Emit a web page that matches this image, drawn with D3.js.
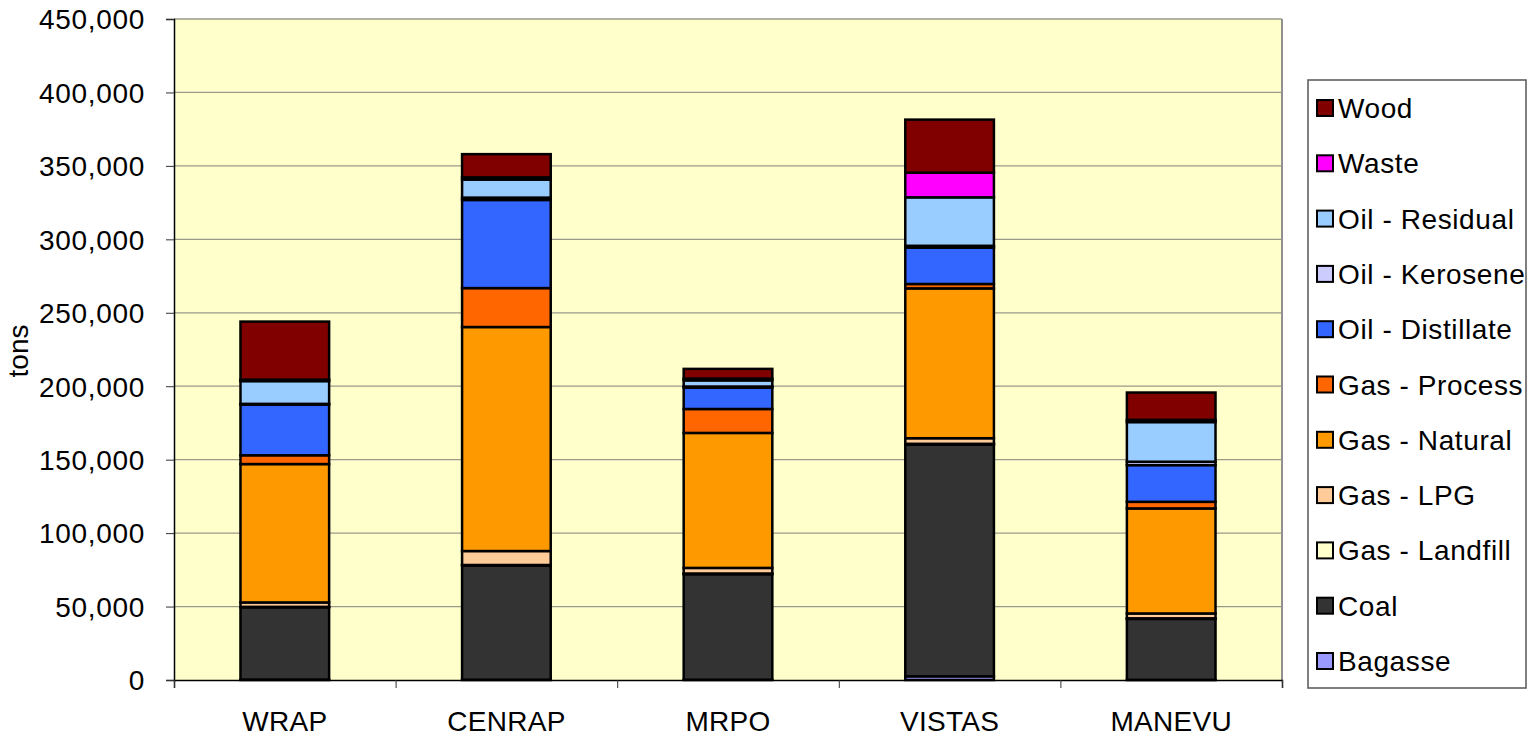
<!DOCTYPE html>
<html>
<head>
<meta charset="utf-8">
<script src="https://cdn.jsdelivr.net/npm/d3@7"></script>
<style>
  body { margin: 0; background: #fff; }
  svg text { font-family: "Liberation Sans", Arial, sans-serif; fill: #000; }
</style>
</head>
<body>
<svg></svg>
<script>
// regions and fuel series (tons)
const categories = ["WRAP", "CENRAP", "MRPO", "VISTAS", "MANEVU"];
const fuels = ["Bagasse", "Coal", "Gas - Landfill", "Gas - LPG", "Gas - Natural", "Gas - Process",
               "Oil - Distillate", "Oil - Kerosene", "Oil - Residual", "Waste", "Wood"];
const fuelColors = ["#9999FF", "#333333", "#FFFFCC", "#FFCC99", "#FF9900", "#FF6600",
                    "#3366FF", "#CCCCFF", "#99CCFF", "#FF00FF", "#800000"];

const bagasse    = [300, 200, 200, 2500, 100];
const coal       = [49200, 77800, 71800, 157800, 41500];
const landfill   = [300, 300, 500, 500, 400];
const lpg        = [3000, 9500, 3800, 3800, 3300];
const natural    = [94200, 152500, 91900, 102000, 71500];
const processGas = [6000, 26500, 16300, 3000, 4500];
const distillate = [34500, 60000, 14500, 24800, 25000];
const kerosene   = [500, 1600, 800, 1200, 2300];
const residual   = [15500, 12300, 4200, 33000, 27000];
const waste      = [1000, 1500, 1200, 16800, 1500];
const wood       = [39500, 15800, 6600, 36100, 18600];

const yTicks = [0, 50000, 100000, 150000, 200000, 250000, 300000, 350000, 400000, 450000];

const series = [bagasse, coal, landfill, lpg, natural, processGas, distillate, kerosene, residual, waste, wood];

// build rows for d3.stack
const rows = categories.map((c, i) => {
    const r = { region: c };
    fuels.forEach((f, j) => r[f] = series[j][i]);
    return r;
});

const width = 1528, height = 743;
const plot = { left: 174, right: 1282, top: 19, bottom: 680 };

const svg = d3.select("svg")
    .attr("width", width)
    .attr("height", height);

const x = d3.scaleBand()
    .domain(categories)
    .range([plot.left, plot.right])
    .paddingInner(0.6)
    .paddingOuter(0.3);

const xEdges = d3.scaleLinear()
    .domain([0, categories.length])
    .range([plot.left, plot.right]);

const y = d3.scaleLinear()
    .domain([0, 450000])
    .range([plot.bottom, plot.top]);

const color = d3.scaleOrdinal().domain(fuels).range(fuelColors);

// plot background
svg.append("rect")
    .attr("x", plot.left)
    .attr("y", plot.top)
    .attr("width", plot.right - plot.left)
    .attr("height", plot.bottom - plot.top)
    .attr("fill", "#FFFFCC");

// gridlines
svg.append("g")
    .selectAll("line")
    .data(yTicks.filter(d => d > 0))
    .enter().append("line")
    .attr("x1", plot.left)
    .attr("x2", plot.right)
    .attr("y1", d => y(d))
    .attr("y2", d => y(d))
    .attr("stroke", "#9a9a8a")
    .attr("stroke-width", 1.3);

// right border of plot area
svg.append("line")
    .attr("x1", plot.right).attr("x2", plot.right)
    .attr("y1", plot.top).attr("y2", plot.bottom)
    .attr("stroke", "#909090")
    .attr("stroke-width", 2);

// stacked bars
const stacked = d3.stack().keys(fuels)(rows);

svg.append("g")
    .selectAll("g")
    .data(stacked)
    .enter().append("g")
    .attr("fill", d => color(d.key))
    .selectAll("rect")
    .data(d => d)
    .enter().append("rect")
    .attr("x", d => x(d.data.region))
    .attr("width", x.bandwidth())
    .attr("y", d => y(d[1]))
    .attr("height", d => y(d[0]) - y(d[1]))
    .attr("stroke", "#000")
    .attr("stroke-width", 2.5);

// y axis
const yAxis = svg.append("g")
    .attr("transform", `translate(${plot.left},0)`)
    .call(d3.axisLeft(y).tickValues(yTicks).tickSize(8).tickPadding(21)
        .tickFormat(d3.format(",")));
yAxis.select(".domain").attr("stroke", "#000").attr("stroke-width", 1.5);
yAxis.selectAll(".tick line").attr("stroke", "#333");
yAxis.selectAll(".tick text")
    .attr("font-size", 28)
    .attr("font-family", "'Liberation Sans', Arial, sans-serif")
    .attr("letter-spacing", "0.7px")
    .attr("dy", "0.35em");

// x axis: tick marks at band edges, labels centered
const xTickAxis = svg.append("g")
    .attr("transform", `translate(0,${plot.bottom})`)
    .call(d3.axisBottom(xEdges).ticks(categories.length).tickSize(8).tickFormat(""));
xTickAxis.select(".domain").attr("stroke", "#000").attr("stroke-width", 1.5);
xTickAxis.selectAll(".tick line").attr("stroke", "#333");

const xLabelAxis = svg.append("g")
    .attr("transform", `translate(0,${plot.bottom})`)
    .call(d3.axisBottom(x).tickSize(0).tickPadding(31));
xLabelAxis.select(".domain").remove();
xLabelAxis.selectAll(".tick text")
    .attr("font-size", 28)
    .attr("letter-spacing", "0.3px")
    .attr("font-family", "'Liberation Sans', Arial, sans-serif");

// y axis title
svg.append("text")
    .attr("transform", "translate(28,351) rotate(-90)")
    .attr("text-anchor", "middle")
    .attr("font-size", 28)
    .text("tons");

// legend
const legend = svg.append("g");
legend.append("rect")
    .attr("x", 1308)
    .attr("y", 80)
    .attr("width", 218)
    .attr("height", 608)
    .attr("fill", "#fff")
    .attr("stroke", "#555")
    .attr("stroke-width", 1.5);

const legendItems = legend.selectAll("g.item")
    .data(fuels.slice().reverse())
    .enter().append("g")
    .attr("class", "item")
    .attr("transform", (d, i) => `translate(1317,${108 + i * 55.3})`);

legendItems.append("rect")
    .attr("x", 0)
    .attr("y", -8)
    .attr("width", 16)
    .attr("height", 16)
    .attr("fill", d => color(d))
    .attr("stroke", "#000")
    .attr("stroke-width", 2);

legendItems.append("text")
    .attr("x", 21)
    .attr("y", 10)
    .attr("font-size", 28)
    .attr("letter-spacing", "0.6px")
    .text(d => d);
</script>
</body>
</html>
